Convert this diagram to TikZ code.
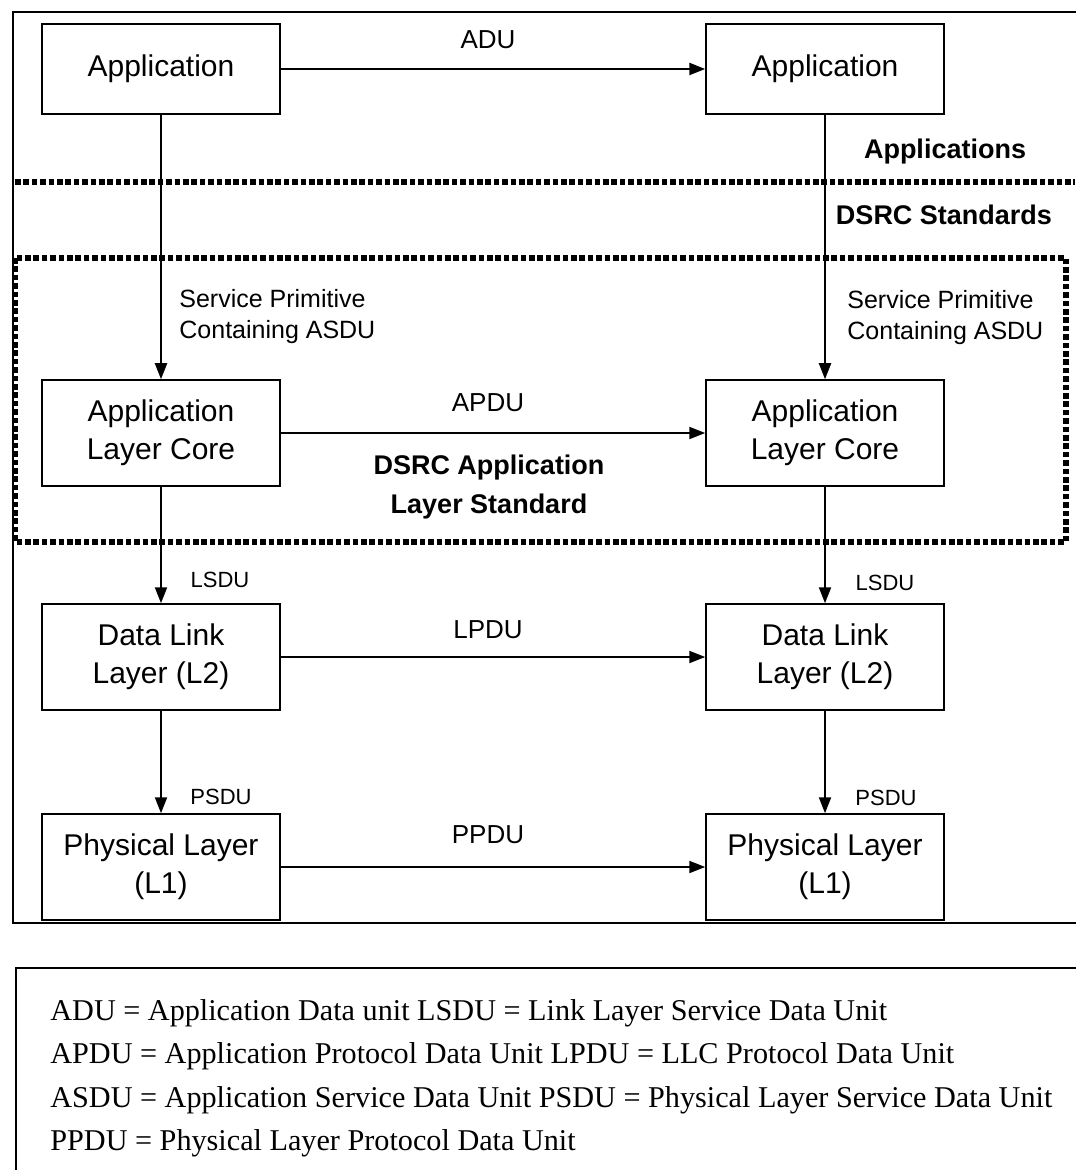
\documentclass[tikz,border=0pt]{standalone}
\usepackage{fontspec}
\setmainfont{Liberation Sans}
\newfontfamily\legendfont{Liberation Serif}
\usetikzlibrary{arrows.meta,positioning}
\tikzset{blk/.style={draw,line width=.75pt,minimum width=119pt,align=center,inner sep=2pt,font=\fontsize{15}{19}\selectfont},
 arr/.style={-{Triangle[length=8pt,width=6pt]},line width=1pt},
 pdu/.style={font=\fontsize{13}{15}\selectfont},
 sdu/.style={font=\fontsize{11}{13}\selectfont},
 prim/.style={font=\fontsize{12.5}{15.5}\selectfont,align=left,inner sep=0pt},
 zone/.style={font=\bfseries\fontsize{13.5}{19.5}\selectfont,align=center},
 dots/.style={line width=2.8pt,dash pattern=on 2.8pt off 1.4pt},
 frame/.style={line width=.7pt},
 key/.style={anchor=base west,inner sep=0pt,font=\legendfont\fontsize{15.1}{21.5}\selectfont}}

\begin{document}
\begin{tikzpicture}[x=.5pt,y=-.5pt]
\useasboundingbox (0,0) rectangle (1075,1170);
% outer frames
\draw[frame] (13,12) rectangle (1085,923);
\draw[frame] (16,968) rectangle (1085,1185);
% dotted borders
\draw[dots] (15,182) -- (1075,182);
\draw[dots] (15,258) rectangle (1066,542);
\node[zone] (apps) at (945,152) {Applications};
\node[zone] (stds) at (944,215) {DSRC Standards};
\node[zone] (alstd) at (489,487) {DSRC Application\\Layer Standard};
% layer boxes
\node[blk,minimum height=45pt] (appL) at (161,69) {Application};
\node[blk,minimum height=45pt] (appR) at (825,69) {Application};
\node[blk,minimum height=53pt] (alcL) at (161,433) {Application\\Layer Core};
\node[blk,minimum height=53pt] (alcR) at (825,433) {Application\\Layer Core};
\node[blk,minimum height=53pt] (dllL) at (161,657) {Data Link\\Layer (L2)};
\node[blk,minimum height=53pt] (dllR) at (825,657) {Data Link\\Layer (L2)};
\node[blk,minimum height=53pt] (phyL) at (161,867) {Physical Layer\\(L1)};
\node[blk,minimum height=53pt] (phyR) at (825,867) {Physical Layer\\(L1)};
% peer arrows
\draw[arr,line width=1.2pt] (appL)--(appR);\draw[arr] (alcL)--(alcR);
\draw[arr] (dllL)--(dllR);\draw[arr] (phyL)--(phyR);
\node[pdu] (adu) at (488,40) {ADU};
\node[pdu] (apdu) at (488,403) {APDU};
\node[pdu] (lpdu) at (488,630) {LPDU};
\node[pdu] (ppdu) at (488,835) {PPDU};
% down arrows
\draw[arr] (appL)--(alcL);\draw[arr] (appR)--(alcR);
\draw[arr] (alcL)--(dllL);\draw[arr] (alcR)--(dllR);
\draw[arr] (dllL)--(phyL);\draw[arr] (dllR)--(phyR);
\node[prim,anchor=west] (spL) at (179,317) {Service Primitive\\Containing ASDU};
\node[prim,anchor=west] (spR) at (847,318) {Service Primitive\\Containing ASDU};
\node[sdu] (lsduL) at (220,580) {LSDU};
\node[sdu] (lsduR) at (885,583) {LSDU};
\node[sdu] (psduL) at (221,797) {PSDU};
\node[sdu] (psduR) at (886,798) {PSDU};
% legend
\node[key] (k1) at (50,1020) {ADU = Application Data unit LSDU = Link Layer Service Data Unit};
\node[key] (k2) at (50,1063) {APDU = Application Protocol Data Unit LPDU = LLC Protocol Data Unit};
\node[key] (k3) at (50,1107) {ASDU = Application Service Data Unit PSDU = Physical Layer Service Data Unit};
\node[key] (k4) at (50,1150) {PPDU = Physical Layer Protocol Data Unit};
\end{tikzpicture}
\end{document}
